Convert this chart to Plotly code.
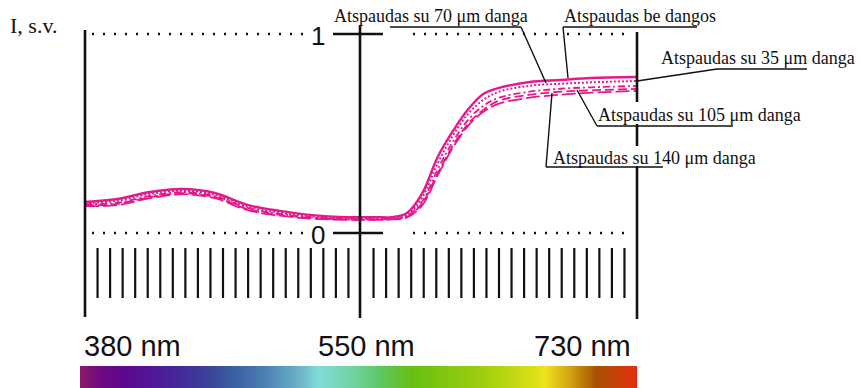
import plotly.graph_objects as go
import numpy as np

# spektrinės kreivės (nuskaityta nuo paveikslo)
wavelength = [380, 400, 420, 440, 460, 480, 500, 520, 540, 560, 570, 580,
              590, 600, 610, 620, 630, 640, 660, 680, 700, 730]
be_dangos = [0.156, 0.171, 0.206, 0.221, 0.201, 0.141, 0.111, 0.090, 0.080, 0.080, 0.080, 0.100,
             0.200, 0.382, 0.513, 0.623, 0.700, 0.729, 0.759, 0.769, 0.779, 0.784]
danga_35 = [0.150, 0.162, 0.196, 0.212, 0.192, 0.133, 0.103, 0.084, 0.074, 0.073, 0.075, 0.090,
            0.180, 0.350, 0.490, 0.600, 0.670, 0.710, 0.740, 0.750, 0.757, 0.764]
danga_70 = [0.145, 0.152, 0.186, 0.205, 0.185, 0.126, 0.096, 0.079, 0.071, 0.070, 0.072, 0.085,
            0.160, 0.320, 0.460, 0.570, 0.640, 0.680, 0.710, 0.725, 0.732, 0.739]
danga_105 = [0.140, 0.146, 0.180, 0.200, 0.180, 0.120, 0.091, 0.076, 0.068, 0.068, 0.070, 0.080,
             0.150, 0.300, 0.440, 0.550, 0.620, 0.665, 0.695, 0.710, 0.717, 0.724]
danga_140 = [0.135, 0.140, 0.175, 0.195, 0.175, 0.115, 0.087, 0.072, 0.066, 0.066, 0.068, 0.078,
             0.140, 0.290, 0.430, 0.540, 0.610, 0.650, 0.680, 0.695, 0.705, 0.714]

scale_nm = [380, 550, 730]
scale_labels = ["380 nm", "550 nm", "730 nm"]
y_levels = [0, 1]

series = [
    ("Atspaudas be dangos", be_dangos, "solid", 2.4),
    ("Atspaudas su 35 \u03bcm danga", danga_35, "2px,2px", 2),
    ("Atspaudas su 70 \u03bcm danga", danga_70, "7px,3px,2px,3px", 1.8),
    ("Atspaudas su 105 \u03bcm danga", danga_105, "9px,4px", 1.8),
    ("Atspaudas su 140 \u03bcm danga", danga_140, "14px,4px", 1.8),
]
MAGENTA = "#e3198c"

# spectrum colours along the bar
spectrum_stops = [
    (0.0, "#8a1a6a"), (0.036, "#6e0a82"), (0.075, "#5c068e"), (0.147, "#4c1c9a"),
    (0.219, "#3c3c98"), (0.266, "#3a5aa2"), (0.327, "#4a7cb2"), (0.395, "#6cb4c8"),
    (0.427, "#80dcd8"), (0.485, "#74d4a8"), (0.535, "#5ec868"), (0.596, "#66c012"),
    (0.718, "#9ccc10"), (0.808, "#d4de14"), (0.835, "#eee41c"), (0.880, "#d4a412"),
    (0.929, "#a65204"), (0.965, "#c84008"), (1.0, "#e23010"),
]

# printed scale: 22 divisions between labelled marks
def to_div(nm):
    return np.interp(nm, scale_nm, [0, 22, 44])

# pixel helpers for placing decorations
PXD = 552 / 44
def px(x):
    return (x - 85) / PXD
def py(y):
    return (233 - y) / 199

fig = go.Figure()

# spectrum bar (x / y given as cell edges)
nbar = 300
fig.add_trace(go.Heatmap(
    z=[np.linspace(0, 1, nbar)] * 2,
    x=np.linspace(px(80), px(637), nbar + 1),
    y=[py(366), py(377), py(390)],
    colorscale=[[p, c] for p, c in spectrum_stops],
    showscale=False, hoverinfo="skip",
))

for name, vals, dash, w in series:
    fig.add_trace(go.Scatter(
        x=to_div(wavelength), y=vals, mode="lines", name=name,
        line=dict(color=MAGENTA, width=w, dash=dash, shape="spline", smoothing=1.0),
    ))

shapes = []
def seg(x0, y0, x1, y1, w=1.5, dash="solid", color="#111"):
    shapes.append(dict(type="line", xref="x", yref="y", x0=px(x0), y0=py(y0),
                       x1=px(x1), y1=py(y1), line=dict(color=color, width=w, dash=dash)))

# main vertical lines
seg(85, 30, 85, 317, w=2.6)
seg(360, 25, 360, 318, w=2.6)
seg(637, 32, 637, 102, w=2.6)
seg(637, 124, 637, 146, w=2.6)
seg(637, 166, 637, 319, w=2.6)

# short ticks
for i in list(range(1, 22)) + list(range(23, 44)):
    shapes.append(dict(type="line", xref="x", yref="y", x0=i, x1=i, y0=py(248), y1=py(298),
                       line=dict(color="#111", width=2.2)))

# levels 0 and 1
for lv in y_levels:
    yy = 233 - lv * 199
    seg(333, yy, 383, yy, w=2.6)
    seg(92, yy, 306, yy, w=2.6, dash="2px,9px")
    seg(413, yy, 628, yy, w=2.6, dash="2px,9px")

# leader lines
seg(390, 27, 521, 27, w=1.4); seg(521, 27, 546, 83, w=1.4)
seg(563, 27, 697, 27, w=1.4); seg(563, 27, 568, 78, w=1.4)
seg(717, 69, 807, 69, w=1.4); seg(717, 69, 637, 81, w=1.4)
seg(597, 126, 733, 126, w=1.4); seg(597, 126, 577, 90, w=1.4)
seg(546, 167, 663, 167, w=1.4); seg(546, 167, 552, 93, w=1.4)

ann = []
def text(s, x, y, size, family, xanchor="left"):
    ann.append(dict(text=s, x=px(x), y=py(y), xref="x", yref="y", showarrow=False,
                    xanchor=xanchor, yanchor="middle",
                    font=dict(size=size, family=family, color="#111")))

SERIF = "Liberation Serif"
SANS = "Liberation Sans"
text("I, s.v.", 8, 25, 22, SERIF)
text(series[2][0], 332, 16, 18, SERIF)
text(series[0][0], 562, 16, 18, SERIF)
text(series[1][0], 659, 58, 18, SERIF)
text(series[3][0], 596, 115, 18, SERIF)
text(series[4][0], 551, 158, 18, SERIF)
for lv in y_levels:
    text(str(lv), 318, 233 - lv * 199 + 2, 26, SANS, xanchor="center")
for nm, lab, anchor, xpos in zip(scale_nm, scale_labels, ["left", "center", "right"], [82, 366, 633]):
    text(lab, xpos, 346, 29, SANS, xanchor=anchor)

fig.update_layout(
    width=860, height=388, margin=dict(l=0, r=0, t=0, b=0),
    paper_bgcolor="white", plot_bgcolor="white", showlegend=False,
    xaxis=dict(range=[px(0), px(860)], visible=False, fixedrange=True),
    yaxis=dict(range=[py(388), py(0)], visible=False, fixedrange=True),
    shapes=shapes, annotations=ann,
)

fig.write_html("out.html", config={"displayModeBar": False},
               post_script="document.body.style.margin='0';document.body.style.overflow='hidden';")
